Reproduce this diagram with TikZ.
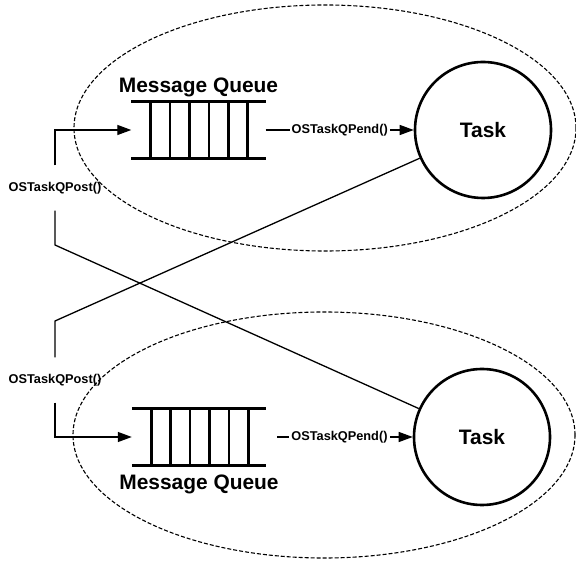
\documentclass[tikz,border=0pt]{standalone}
\usepackage{fontspec}
\setmainfont{Liberation Sans}
\usepackage{tikz}
\usetikzlibrary{arrows.meta,positioning}
\tikzset{>={Triangle[length=14bp,width=10bp]}}
\tikzset{
  task/.style={circle, draw, line width=2.6bp, minimum size=136bp, inner sep=0pt,
    font=\bfseries\fontsize{21}{24}\selectfont},
  queue/.style={rectangle, minimum width=134bp, minimum height=57bp, inner sep=0pt},
  qline/.style={line width=2.6bp},
  qlabel/.style={font=\bfseries\fontsize{21}{24}\selectfont, inner sep=0pt},
  call/.style={font=\bfseries\fontsize{12.8}{14}\selectfont, inner xsep=2bp, inner ysep=0pt},
  post/.style={call, minimum height=45bp},
  wire/.style={line width=1.3bp},
  zone/.style={dash pattern=on 4bp off 2bp, line width=1.1bp},
}

\begin{document}
\begin{tikzpicture}[x=1bp, y=1bp]
  \useasboundingbox (0,0) rectangle (576,564);

  % upper task with its queue
  \node[task] (task1) at (483,434) {Task};
  \node[queue] (queue1) at (198.5,434) {};
  \node[qlabel, above=4.5bp of queue1] (mq1) {Message Queue};
  % lower task with its queue
  \node[task] (task2) at (482,127) {Task};
  \node[queue] (queue2) at (199,127) {};
  \node[qlabel, below=9bp of queue2] (mq2) {Message Queue};

  \foreach \q in {queue1, queue2} {
    \draw[qline] (\q.north west) -- (\q.north east);
    \draw[qline] (\q.south west) -- (\q.south east);
    \foreach \i in {1,...,6}
      \draw[qline] ([xshift=\i*19.4bp]\q.north west) -- ([xshift=\i*19.4bp]\q.south west);
  }

  % pend calls
  \draw[wire, ->] (queue1.east) -- node[call, fill=white] {OSTaskQPend()} (task1.west);
  \draw[wire, ->, shorten <=11bp] (queue2.east) -- node[call, fill=white] {OSTaskQPend()} (task2.west);

  % post calls, each task posts to the other queue
  \node[post] (post1) at (55,376) {OSTaskQPost()};
  \node[post] (post2) at (55,184) {OSTaskQPost()};
  \coordinate (c1) at (55,319);
  \coordinate (c2) at (55,243);
  \draw[wire] (task2) -- (c1) -- (post1.south);
  \draw[wire, ->] (post1.north) |- (queue1.west);
  \draw[wire] (task1) -- (c2) -- (post2.north);
  \draw[wire, ->] (post2.south) |- (queue2.west);

  % dashed zones round each task
  \draw[zone] (325,436) ellipse [x radius=251, y radius=123];
  \draw[zone] (324,129) ellipse [x radius=251, y radius=123];
\end{tikzpicture}
\end{document}
